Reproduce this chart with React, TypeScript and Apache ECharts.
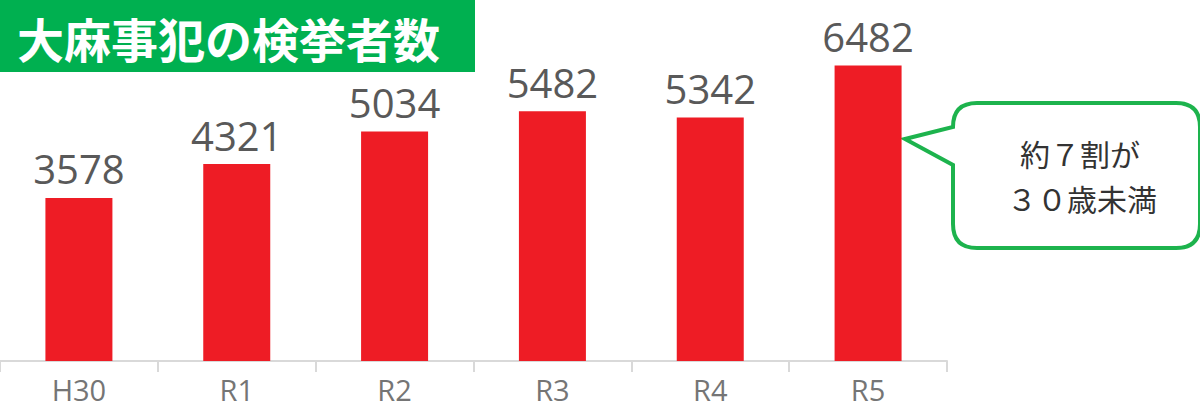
import React, { useEffect, useRef } from "react";
import * as echarts from "echarts";

const categories = ["H30", "R1", "R2", "R3", "R4", "R5"];
const arrests = [3578, 4321, 5034, 5482, 5342, 6482];
const titleText = "大麻事犯の検挙者数";
const calloutLines = ["約７割が", "３０歳未満"];

const bubblePath =
  "M 977 103 L 1176 103 Q 1200 103 1200 127 L 1200 224 Q 1200 248 1176 248 L 977 248 Q 953 248 953 224 L 953 165 L 905 139 L 953 127 Q 953 103 977 103 Z";

let registered = false;

export default function App() {
  const ref = useRef<HTMLDivElement>(null);
  useEffect(() => {
    if (!ref.current) return;
    if (!registered) {
      echarts.graphic.registerShape("bubble", echarts.graphic.extendPath(bubblePath, {}));
      registered = true;
    }
    const chart = echarts.init(ref.current, null, { renderer: "svg" });
    chart.setOption({
      animation: false,
      backgroundColor: "#ffffff",
      grid: { left: 0, right: 253, top: 42, bottom: 48, containLabel: false },
      xAxis: {
        type: "category",
        data: categories,
        axisLine: { show: true, lineStyle: { color: "#d9d9d9", width: 2 } },
        axisTick: { show: true, length: 11, lineStyle: { color: "#d9d9d9", width: 2 } },
        axisLabel: {
          color: "#757575",
          fontSize: 29,
          lineHeight: 29,
          fontFamily: "Open Sans",
          margin: 14,
        },
      },
      yAxis: {
        type: "value",
        min: 0,
        max: 7000,
        show: false,
        splitLine: { show: false },
      },
      series: [
        {
          type: "bar",
          data: arrests,
          barWidth: 67,
          itemStyle: { color: "#ee1c25" },
          label: {
            show: true,
            position: "top",
            distance: 9,
            color: "#595959",
            fontSize: 40,
            fontFamily: "Open Sans",
          },
        },
      ],
      graphic: [
        {
          type: "rect",
          shape: { x: 0, y: 0, width: 475, height: 72 },
          style: { fill: "#00b050" },
        },
        {
          type: "text",
          x: 17,
          y: 37,
          style: {
            text: titleText,
            fill: "#ffffff",
            fontSize: 47,
            fontWeight: "bold",
            fontFamily: "Noto Sans CJK JP",
            verticalAlign: "middle",
            align: "left",
          },
        },
        {
          type: "bubble",
          x: 0,
          y: 0,
          style: { fill: "#ffffff", stroke: "#1db34d", lineWidth: 4 },
        },
        {
          type: "text",
          x: 1080,
          y: 153,
          style: {
            text: calloutLines[0],
            fill: "#333333",
            fontSize: 30,
            fontFamily: "Noto Sans CJK JP",
            align: "center",
            verticalAlign: "middle",
          },
        },
        {
          type: "text",
          x: 1082,
          y: 198,
          style: {
            text: calloutLines[1],
            fill: "#333333",
            fontSize: 30,
            fontFamily: "Noto Sans CJK JP",
            align: "center",
            verticalAlign: "middle",
          },
        },
      ],
    });
    return () => chart.dispose();
  }, []);
  return (
    <div
      ref={ref}
      style={{ position: "fixed", left: 0, top: 0, width: 1200, height: 409 }}
    />
  );
}
